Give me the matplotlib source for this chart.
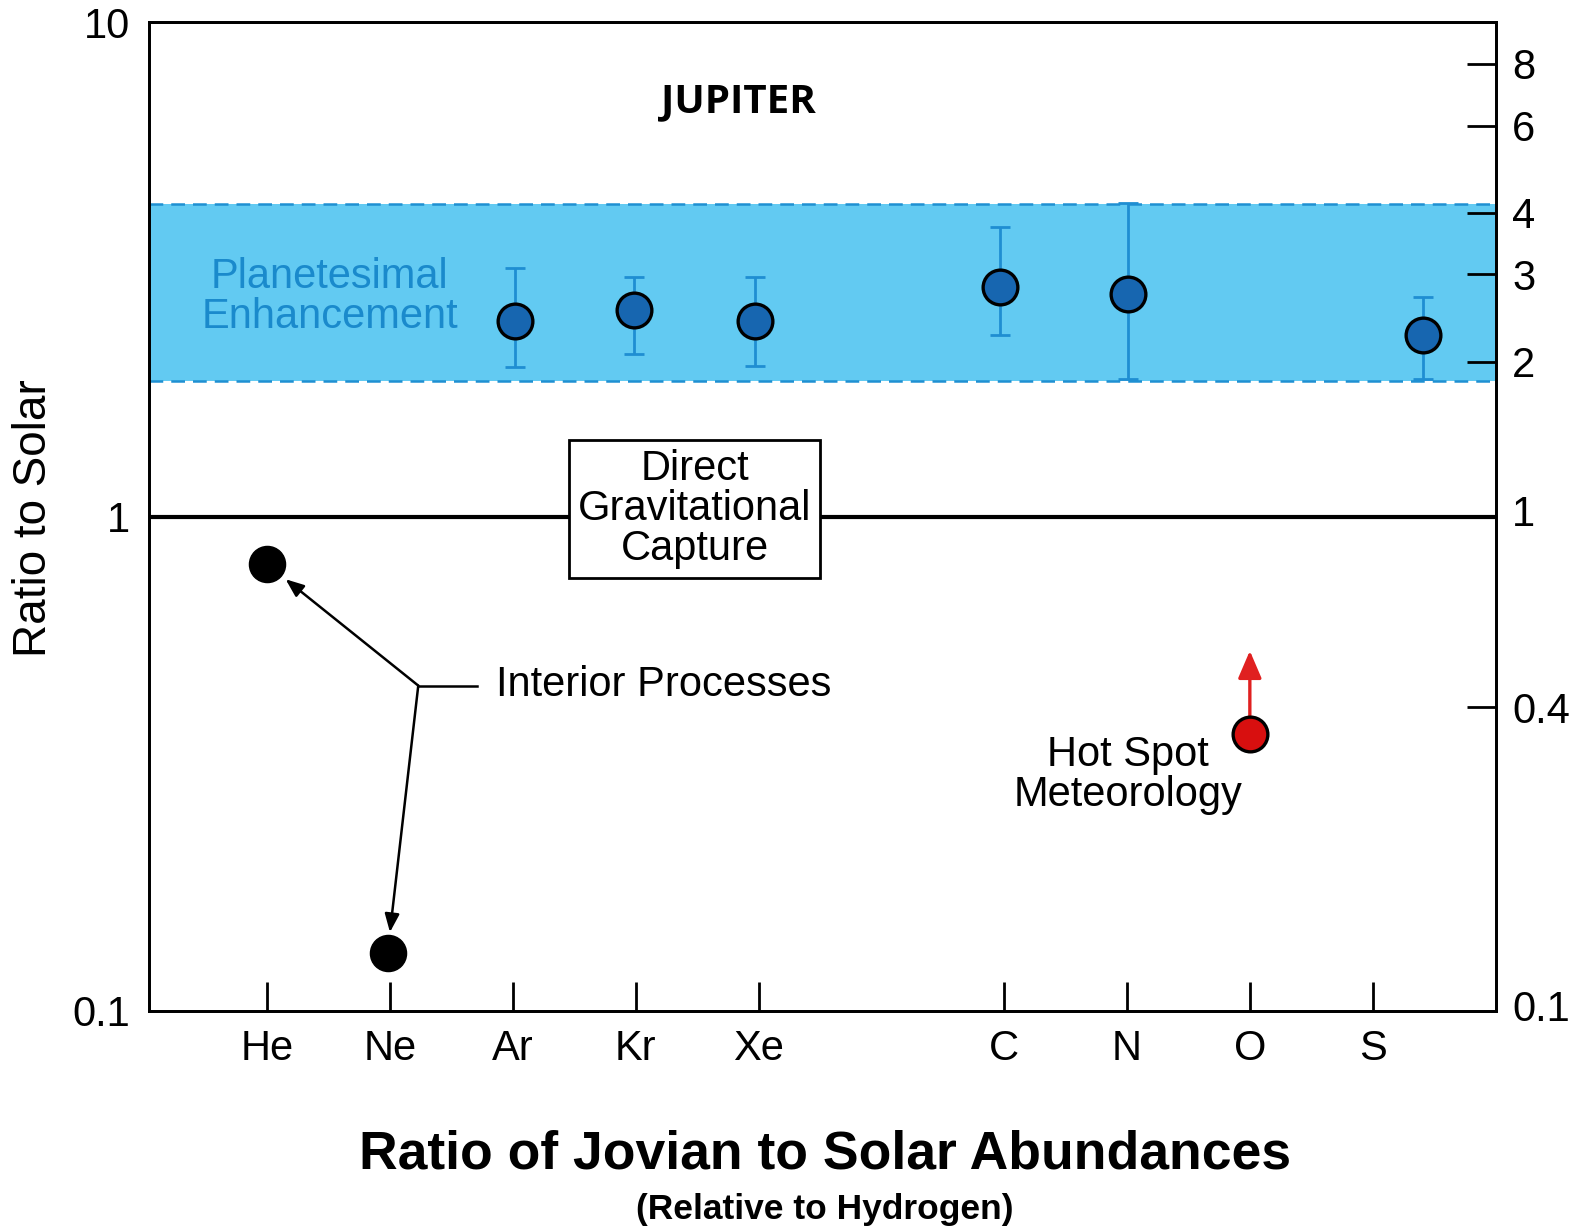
import matplotlib
matplotlib.use("Agg")
import matplotlib.pyplot as plt
from matplotlib.ticker import NullLocator

plt.rcParams['font.family'] = 'Liberation Sans'
plt.rcParams['font.size'] = 30

# data
elements = ["He", "Ne", "Ar", "Kr", "Xe", "C", "N", "O", "S"]
element_pos = [1, 2, 3, 4, 5, 7, 8, 9, 10]

enh_x = [3.02, 3.99, 4.97, 6.97, 8.01, 10.41]
enh_y = [2.49, 2.62, 2.49, 2.91, 2.82, 2.33]
enh_hi = [3.19, 3.06, 3.05, 3.86, 4.30, 2.78]
enh_lo = [2.01, 2.13, 2.02, 2.33, 1.90, 1.90]

interior_x = [1.0, 1.98]
interior_y = [0.80, 0.131]

hotspot_x = [9.0]
hotspot_y = [0.364]
hotspot_limit = [0.535]

band_lo, band_hi = 1.88, 4.28
right_ticks = [0.1, 0.4, 1, 2, 3, 4, 6, 8]
right_labels = ["0.1", "0.4", "1", "2", "3", "4", "6", "8"]

BAND = "#62caf2"
DASH = "#1f90d2"
ERR = "#1f8ed2"
DOT = "#1766b0"

fig = plt.figure(figsize=(15.93, 12.26), dpi=100)
ax = fig.add_axes([0.0937, 0.1755, 0.8451, 0.8063])

ax.set_yscale("log")
ax.set_ylim(0.1, 10)
ax.set_xlim(0.04, 11.0)

ax.axhspan(band_lo, band_hi, color=BAND, lw=0, zorder=0)
for yb in (band_lo, band_hi):
    ax.axhline(yb, color=DASH, lw=1.8, ls=(0, (5.5, 3.2)), zorder=1)

ax.axhline(1.0, color="black", lw=3, zorder=2)

yerr = [[y - lo for y, lo in zip(enh_y, enh_lo)], [hi - y for y, hi in zip(enh_y, enh_hi)]]
ax.errorbar(enh_x, enh_y, yerr=yerr, fmt="none", ecolor=ERR, elinewidth=2,
            capsize=7, capthick=2, zorder=3)
ax.plot(enh_x, enh_y, ls="none", marker="o", ms=25, mfc=DOT, mec="black", mew=2.4, zorder=4)

ax.plot(interior_x, interior_y, ls="none", marker="o", ms=26, mfc="black", mec="black", zorder=4)

ax.annotate("", xy=(hotspot_x[0], hotspot_limit[0]), xytext=(hotspot_x[0], hotspot_y[0]),
            arrowprops=dict(arrowstyle="-|>,head_length=0.7,head_width=0.3", color="#e02020",
                            lw=2.4, mutation_scale=24, shrinkA=0, shrinkB=0), zorder=3)
ax.plot(hotspot_x, hotspot_y, ls="none", marker="o", ms=25, mfc="#d80f0f", mec="black", mew=2.4, zorder=4)

# labels inside the plot
ax.text(4.84, 6.9, "JUPITER", ha="center", va="center", fontsize=29,
        fontweight="bold", family="Open Sans")
ax.text(1.51, 2.78, "Planetesimal\nEnhancement", ha="center", va="center",
        color="#1a8acc", linespacing=1.0)
ax.text(4.48, 1.036, "Direct\nGravitational\nCapture", ha="center", va="center",
        linespacing=1.0, zorder=5,
        bbox=dict(boxstyle="square,pad=0.22", fc="white", ec="black", lw=2))
ax.text(8.01, 0.30, "Hot Spot\nMeteorology", ha="center", va="center", linespacing=0.98)

ax.text(2.86, 0.457, "Interior Processes", ha="left", va="center")
jx, jy = 2.23, 0.455
ax.plot([jx, 2.71], [jy, jy], color="black", lw=1.8)
for px, py, sh in zip(interior_x, interior_y, [17, 15]):
    ax.annotate("", xy=(px, py), xytext=(jx, jy),
                arrowprops=dict(arrowstyle="-|>,head_length=0.55,head_width=0.22",
                                color="black", lw=1.8, mutation_scale=20,
                                shrinkA=0, shrinkB=sh))

# axes
ax.set_xticks(element_pos, elements)
ax.tick_params(axis="x", direction="in", length=21, width=2, pad=13, top=False)
ax.set_yticks([0.1, 1, 10], ["0.1", "1", "10"])
ax.yaxis.set_minor_locator(NullLocator())
ax.tick_params(axis="y", length=0, pad=14)

# right-hand scale sits a few pixels higher in the scanned original
ax2 = ax.twinx()
ax2.set_yscale("log")
ax2.set_ylim(0.0975, 9.7)
ax2.set_yticks(right_ticks, right_labels)
ax2.yaxis.set_minor_locator(NullLocator())
ax2.tick_params(axis="y", direction="in", length=21, width=2, pad=12)
# no tick marks at 0.1 and 1 (the spine and the solar line are there)
for t, v in zip(ax2.yaxis.get_major_ticks(), right_ticks):
    if v in (0.1, 1):
        t.tick1line.set_visible(False)
        t.tick2line.set_visible(False)

for a in (ax, ax2):
    for s in a.spines.values():
        s.set_linewidth(2)

fig.text(0.0215, 0.5775, "Ratio to Solar", rotation=90, ha="center", va="center", fontsize=33)
fig.text(0.518, 0.0585, "Ratio of Jovian to Solar Abundances", ha="center", va="center",
         fontsize=38.5, fontweight="bold")
fig.text(0.518, 0.0135, "(Relative to Hydrogen)", ha="center", va="center",
         fontsize=25.5, fontweight="bold")

fig.savefig("out.png", dpi=100)
